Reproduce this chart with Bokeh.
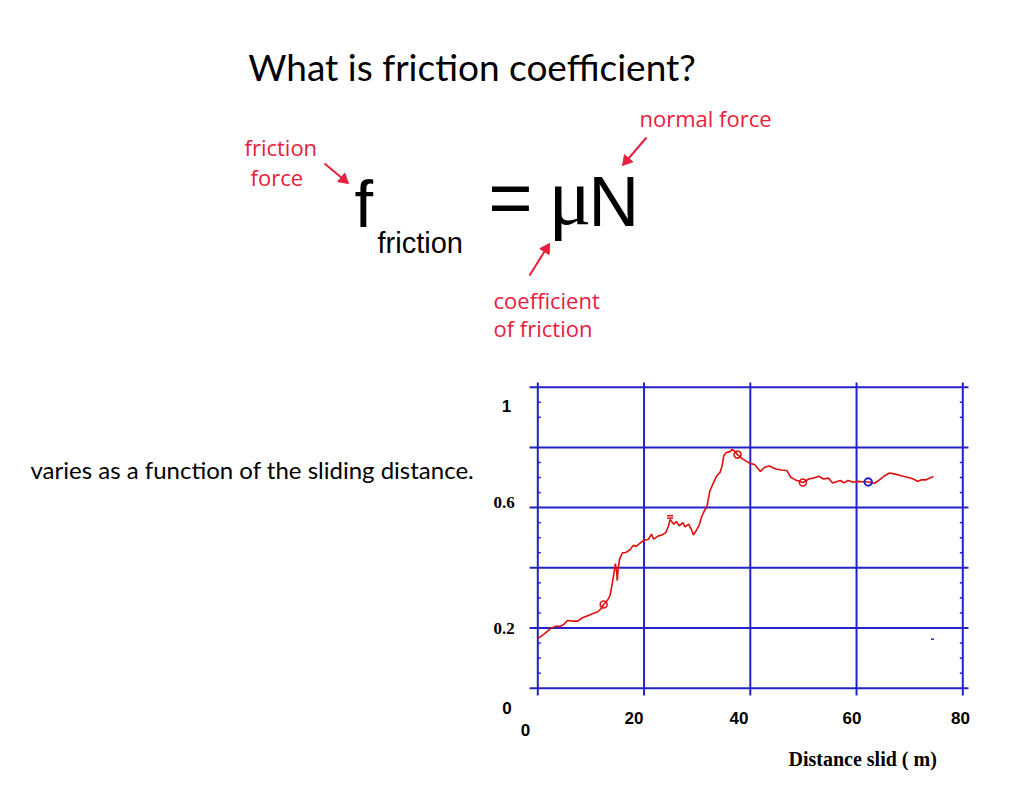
import math
from bokeh.plotting import figure
from bokeh.models import Range1d, ColumnDataSource
from bokeh.core.properties import value
from bokeh.embed import file_html
from bokeh.resources import INLINE

# ---------------- data ----------------
distance = [0, 1.1, 2.4, 3.4, 4.3, 4.9, 5.6, 6.5, 7.5, 8.4,
            9.4, 10.3, 11.3, 11.9, 12.4, 13.2, 13.6, 14.0, 14.3, 14.6,
            14.85, 14.95, 15.1, 15.4, 15.9, 16.6, 17.3, 18.0, 18.5, 19.2,
            20.0, 20.8, 21.4, 21.8, 22.7, 23.5, 24.1, 24.6, 24.9, 25.1,
            25.6, 26.1, 26.6, 27.3, 27.7, 28.4, 28.9, 29.3, 29.8, 30.4,
            30.9, 31.4, 31.8, 32.4, 33.1, 33.7, 34.3, 34.7, 35.0, 35.5,
            36.2, 36.6, 37.1, 37.6, 38.6, 39.9, 40.8, 41.9, 42.7, 43.6,
            44.8, 45.8, 46.9, 47.6, 48.5, 49.9, 51.0, 51.9, 52.9, 53.8,
            54.7, 55.5, 56.3, 57.0, 57.6, 58.4, 59.4, 60.0, 61.2, 62.2,
            63.4, 64.3, 65.3, 66.2, 67.1, 68.4, 69.6, 70.7, 71.5, 72.1,
            73.0, 74.1, 74.5]
friction_coef = [0.165, 0.179, 0.198, 0.206, 0.206, 0.212, 0.225, 0.223, 0.223, 0.234,
                 0.241, 0.247, 0.254, 0.264, 0.278, 0.294, 0.308, 0.346, 0.379, 0.414,
                 0.385, 0.357, 0.391, 0.429, 0.449, 0.451, 0.459, 0.475, 0.471, 0.481,
                 0.492, 0.494, 0.512, 0.495, 0.506, 0.510, 0.517, 0.539, 0.560, 0.556,
                 0.545, 0.554, 0.539, 0.550, 0.536, 0.545, 0.528, 0.509, 0.523, 0.543,
                 0.572, 0.591, 0.601, 0.656, 0.684, 0.706, 0.717, 0.739, 0.772, 0.783,
                 0.786, 0.794, 0.786, 0.776, 0.761, 0.747, 0.743, 0.720, 0.734, 0.738,
                 0.728, 0.725, 0.723, 0.701, 0.692, 0.683, 0.695, 0.698, 0.704, 0.695,
                 0.698, 0.682, 0.687, 0.690, 0.682, 0.690, 0.684, 0.687, 0.686, 0.685,
                 0.681, 0.692, 0.706, 0.715, 0.712, 0.706, 0.701, 0.695, 0.687, 0.692,
                 0.692, 0.701, 0.703]

red_marker_x = [12.4, 37.6, 49.9]
red_marker_y = [0.278, 0.776, 0.683]
blue_marker_x = [62.2]
blue_marker_y = [0.685]
equal_marker_x = [24.9, 24.9]
equal_marker_y = [0.573, 0.565]
blue_dash_x = [74.3]
blue_dash_y = [0.163]

x_grid_values = [0, 20, 40, 60, 80]
y_grid_values = [0, 0.2, 0.4, 0.6, 0.8, 1.0]
minor_y_values = [0.05, 0.1, 0.15, 0.25, 0.3, 0.35, 0.45, 0.5, 0.55,
                  0.65, 0.7, 0.75, 0.9, 0.95]

x_tick_values = [0, 20, 40, 60, 80]
x_tick_labels = ["0", "20", "40", "60", "80"]
y_tick_values = [1.0, 0.6, 0.2, 0.0]
y_tick_labels = ["1", "0.6", "0.2", "0"]

title_text = "What is friction coefficient?"
side_text = "varies as a function of the sliding  distance."
x_axis_title = "Distance slid ( m)"

# ---------------- styles / layout ----------------
BLUE = "#2323c8"
RED = "#dd0f0f"
LABEL_RED = "#e8203c"

W, H = 1008, 775
X0_PX, PX_PER_X = 537.3, 5.3125      # page pixel of x=0, pixels per metre
Y0_PX, PX_PER_Y = 687.7, 301.0       # page pixel of y=0, pixels per unit
GRID_X_EXTENT = (-1.56, 81.07)
GRID_Y_EXTENT = (-0.0243, 1.0156)

x_tick_dx = [-12.3, -10, -11.3, -4.6, -2.3]
x_tick_dy = [41.5, 29.5, 29.5, 29.5, 29.5]
y_tick_dx = [-31.3, -33.8, -33.8, -30.8]
y_tick_dy = [18.8, -4.8, 0, 19.8]
y_tick_fonts = ["Liberation Sans", "Liberation Serif", "Liberation Serif", "Liberation Sans"]

p = figure(width=W, height=H, output_backend="svg", toolbar_location=None,
           x_range=Range1d(-X0_PX / PX_PER_X, (W - X0_PX) / PX_PER_X),
           y_range=Range1d(-(H - Y0_PX) / PX_PER_Y, Y0_PX / PX_PER_Y),
           x_axis_location=None, y_axis_location=None,
           min_border=0)
p.grid.visible = False
p.outline_line_color = None
p.background_fill_color = "white"
p.border_fill_color = "white"

# extra ranges mapping to page pixel coordinates (for slide texts)
p.extra_x_ranges = {"px": Range1d(0, W)}
p.extra_y_ranges = {"px": Range1d(H, 0)}

# grid lines
n = len(x_grid_values)
p.segment(x0=x_grid_values, y0=[GRID_Y_EXTENT[0]] * n, x1=x_grid_values, y1=[GRID_Y_EXTENT[1]] * n,
          line_color=BLUE, line_width=2)
m = len(y_grid_values)
p.segment(x0=[GRID_X_EXTENT[0]] * m, y0=y_grid_values, x1=[GRID_X_EXTENT[1]] * m, y1=y_grid_values,
          line_color=BLUE, line_width=2)

# minor ticks on left and right edges
k = len(minor_y_values)
p.ray(x=[x_grid_values[0]] * k, y=minor_y_values, length=3, length_units="screen",
      angle=0, line_color=BLUE, line_width=1.5)
p.ray(x=[x_grid_values[-1]] * k, y=minor_y_values, length=3, length_units="screen",
      angle=math.pi, line_color=BLUE, line_width=1.5)

# data curve and markers
p.line(distance, friction_coef, line_color=RED, line_width=1.6)
p.scatter(red_marker_x, red_marker_y, marker="circle", size=7,
          fill_color=None, line_color=RED, line_width=1.5)
p.scatter(blue_marker_x, blue_marker_y, marker="circle", size=7.5,
          fill_color=None, line_color=BLUE, line_width=2)
p.scatter(equal_marker_x, equal_marker_y, marker="dash", size=6,
          line_color=RED, line_width=1.5)
p.scatter(blue_dash_x, blue_dash_y, marker="dash", size=3,
          line_color=BLUE, line_width=1.5)

# tick labels
xsrc = ColumnDataSource(dict(x=x_tick_values, y=[0] * len(x_tick_values), text=x_tick_labels,
                             dx=x_tick_dx, dy=x_tick_dy))
p.text(x="x", y="y", text="text", x_offset="dx", y_offset="dy", source=xsrc,
       text_font=value("Liberation Sans"), text_font_style="bold", text_font_size="17px",
       text_color="black", text_align="center", text_baseline="middle")
for v, t, dx, dy, f in zip(y_tick_values, y_tick_labels, y_tick_dx, y_tick_dy, y_tick_fonts):
    p.text(x=[0], y=[v], text=[t], x_offset=dx, y_offset=dy,
           text_font=value(f), text_font_style="bold", text_font_size="17px",
           text_color="black", text_align="center", text_baseline="middle")


def px_text(x, y_base, text, font, size, color="black", style="normal", align="left"):
    # y_base is the intended alphabetic baseline; text is placed by its middle
    y_mid = y_base - 0.36 * size
    p.text(x=[x], y=[y_mid], text=[text], x_range_name="px", y_range_name="px",
           text_font=value(font), text_font_size=f"{size}px", text_color=color,
           text_font_style=style, text_align=align, text_baseline="middle")


px_text(788, 766, x_axis_title, "Liberation Serif", 20, style="bold")

# slide texts
px_text(471.5, 79, title_text, "Lato", 37, align="center")
px_text(30, 478, side_text, "Lato", 24)

# formula
px_text(354, 227, "f", "Liberation Sans", 67)
px_text(377, 253, "friction", "Liberation Sans", 29)
px_text(510, 224, "=", "Liberation Sans", 76, align="center")
px_text(548, 225, "\u03bc", "Liberation Serif", 80)
px_text(588, 227, "N", "Liberation Sans", 70)

px_text(244, 154, "friction", "Open Sans", 22, LABEL_RED)
px_text(250, 184, "force", "Open Sans", 22, LABEL_RED)
px_text(639, 125, "normal force", "Open Sans", 22, LABEL_RED)
px_text(493, 307, "coefficient", "Open Sans", 22, LABEL_RED)
px_text(493, 335, "of friction", "Open Sans", 22, LABEL_RED)

# annotation arrows (page pixel coordinates)
HEAD = 11
arrows = [(324, 163, 348, 183), (646, 137, 622, 165), (529, 275, 549, 243)]
bx0, by0, bx1, by1, hx, hy, ha = [], [], [], [], [], [], []
for (xs, ys, xe, ye) in arrows:
    L = math.hypot(xe - xs, ye - ys)
    ux, uy = (xe - xs) / L, (ye - ys) / L
    tip_back = HEAD * 0.577
    bx0.append(xs); by0.append(ys)
    bx1.append(xe - ux * HEAD * 0.6); by1.append(ye - uy * HEAD * 0.6)
    hx.append(xe - ux * tip_back); hy.append(ye - uy * tip_back)
    ha.append(math.atan2(-(ye - ys), xe - xs) - math.pi / 2)
p.segment(x0=bx0, y0=by0, x1=bx1, y1=by1, x_range_name="px", y_range_name="px",
          line_color=LABEL_RED, line_width=2)
p.scatter(x=hx, y=hy, angle=ha, marker="triangle", size=HEAD,
          x_range_name="px", y_range_name="px",
          fill_color=LABEL_RED, line_color=LABEL_RED, line_width=1)

open("out.html", "w").write(file_html(p, INLINE))
